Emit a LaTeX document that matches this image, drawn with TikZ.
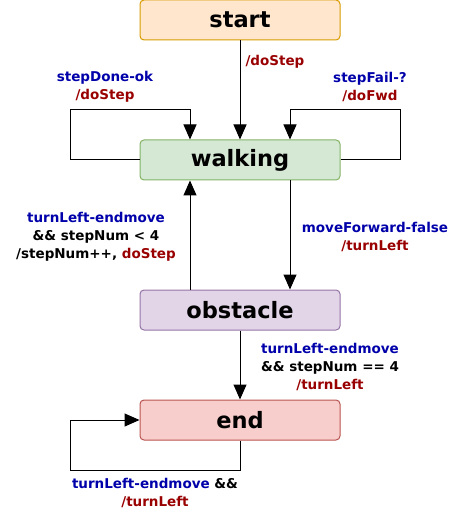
\documentclass[tikz,border=0pt]{standalone}
\usepackage{fontspec}
\setmainfont{DejaVu Sans}
\usetikzlibrary{arrows.meta}
\definecolor{evblue}{HTML}{0000AA}
\definecolor{acred}{HTML}{990000}
\definecolor{startfill}{HTML}{FFE6CC}
\definecolor{startline}{HTML}{D79B00}
\definecolor{walkfill}{HTML}{D5E8D4}
\definecolor{walkline}{HTML}{82B366}
\definecolor{obstfill}{HTML}{E1D5E7}
\definecolor{obstline}{HTML}{9673A6}
\definecolor{endfill}{HTML}{F8CECC}
\definecolor{endline}{HTML}{B85450}
\begin{document}
\begin{tikzpicture}[x=1pt, y=-1pt, line width=1pt, state_style/.style={draw, rounded corners=4pt, minimum width=200pt, minimum height=40pt, inner sep=0pt, font=\fontsize{22.5}{26}\selectfont\bfseries}, label_style/.style={align=center, inner sep=0pt, font=\fontsize{13.5}{18}\selectfont\bfseries}, edge_style/.style={draw=black, line width=1pt, -{Triangle[length=15pt,width=13pt]}}]
      \useasboundingbox (0,0) rectangle (472,518);
      \draw
        (240,20) node[state_style, draw=startline, fill=startfill] (start){start}
        (240,160) node[state_style, draw=walkline, fill=walkfill] (walking){walking}
        (240,310) node[state_style, draw=obstline, fill=obstfill] (obstacle){obstacle}
        (240,420) node[state_style, draw=endline, fill=endfill] (finish){end};
      \coordinate (loop_left) at (70,110);
      \coordinate (loop_right) at (400,110);
      \coordinate (loop_end) at (70,470);
      \begin{scope}
        \draw[edge_style] (start) -- (walking);
        \draw[edge_style] (walking.west) -| (loop_left) -| ([xshift=-50pt]walking.north);
        \draw[edge_style] (walking.east) -| (loop_right) -| ([xshift=50pt]walking.north);
        \draw[edge_style] ([xshift=50pt]walking.south) -- ([xshift=50pt]obstacle.north);
        \draw[edge_style] ([xshift=-50pt]obstacle.north) -- ([xshift=-50pt]walking.south);
        \draw[edge_style] (obstacle) -- (finish);
        \draw[edge_style] (finish.south) |- (loop_end) |- (finish.west);
      \end{scope}
      \node[label_style, anchor=west, text=acred] (lbl_start) at (245,62) {/doStep};
      \node[label_style] (lbl_done) at (105,87) {\textcolor{evblue}{stepDone-ok}\\\textcolor{acred}{/doStep}};
      \node[label_style] (lbl_fail) at (370,87) {\textcolor{evblue}{stepFail-?}\\\textcolor{acred}{/doFwd}};
      \node[label_style] (lbl_back) at (96,237) {\textcolor{evblue}{turnLeft-endmove}\\\&\& stepNum < 4\\/stepNum++, \textcolor{acred}{doStep}};
      \node[label_style] (lbl_fwd) at (375,237) {\textcolor{evblue}{moveForward-false}\\\textcolor{acred}{/turnLeft}};
      \node[label_style] (lbl_down) at (330,367) {\textcolor{evblue}{turnLeft-endmove}\\\&\& stepNum == 4\\\textcolor{acred}{/turnLeft}};
      \node[label_style] (lbl_end) at (155,493) {\textcolor{evblue}{turnLeft-endmove} \&\&\\\textcolor{acred}{/turnLeft}};
\end{tikzpicture}
\end{document}
